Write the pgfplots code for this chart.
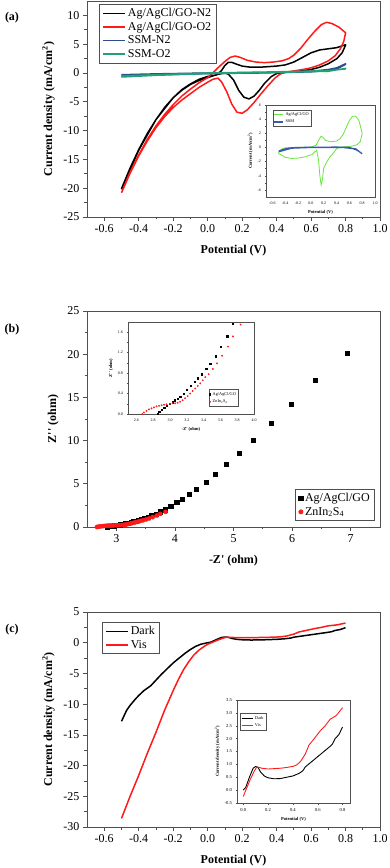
\documentclass[border=0pt]{standalone}
\usepackage{fontspec}
\setmainfont{Liberation Serif}
\usepackage{pgfplots}
\usepackage{pgfplotstable}
\pgfplotsset{compat=1.18}

\definecolor{ssmblue}{HTML}{2E4C8E}
\definecolor{ssmgreen}{HTML}{22A077}
\definecolor{cvred}{HTML}{FF1A1A}
\definecolor{limeg}{HTML}{66E83A}
\definecolor{insblue}{HTML}{3B5BA8}
\definecolor{frm}{HTML}{505050}

% EIS data (b)
\pgfplotstableread{
x y
2.85 0.00
2.87 0.05
2.90 0.09
2.93 0.13
2.96 0.16
3.00 0.20
3.03 0.23
3.06 0.27
3.09 0.30
3.12 0.34
3.16 0.40
3.20 0.47
3.25 0.55
3.29 0.63
3.33 0.70
3.38 0.78
3.43 0.88
3.48 0.99
3.54 1.13
3.60 1.32
3.68 1.52
3.75 1.76
3.84 2.00
3.93 2.37
4.03 2.83
4.12 3.22
4.24 3.78
4.37 4.40
4.53 5.17
4.69 6.10
4.88 7.25
5.10 8.54
5.34 10.08
5.64 12.00
5.98 14.25
6.39 16.95
6.94 20.10
}\agdata
\pgfplotstableread{
x y
2.67 0.00
2.69 0.03
2.72 0.06
2.75 0.09
2.78 0.11
2.81 0.13
2.84 0.15
2.87 0.16
2.90 0.17
2.93 0.18
2.96 0.19
3.00 0.20
3.03 0.21
3.06 0.21
3.09 0.22
3.12 0.24
3.15 0.27
3.18 0.31
3.21 0.35
3.24 0.40
3.27 0.45
3.30 0.50
3.33 0.55
3.36 0.60
3.39 0.66
3.42 0.72
3.46 0.78
3.51 0.88
3.56 0.99
3.62 1.14
3.69 1.32
3.75 1.52
3.84 1.75
}\zisdata

% LSV data (c)
\pgfplotstableread{
x y
-0.50 -12.8
-0.49 -12.2
-0.47 -11.0
-0.45 -10.2
-0.42 -9.2
-0.40 -8.6
-0.37 -7.8
-0.33 -7.0
-0.30 -6.1
-0.27 -5.2
-0.23 -4.1
-0.20 -3.3
-0.17 -2.6
-0.13 -1.7
-0.10 -1.1
-0.07 -0.6
-0.04 -0.25
0.00 0.00
0.02 0.10
0.05 0.50
0.08 0.85
0.10 0.92
0.12 0.88
0.14 0.70
0.17 0.55
0.20 0.48
0.25 0.44
0.30 0.45
0.35 0.50
0.40 0.55
0.45 0.65
0.48 0.75
0.50 0.90
0.55 1.10
0.60 1.30
0.65 1.50
0.70 1.70
0.72 1.80
0.74 2.00
0.77 2.15
0.80 2.45
}\darkdata
\pgfplotstableread{
x y
-0.50 -28.6
-0.45 -25.0
-0.40 -21.6
-0.35 -18.0
-0.30 -14.6
-0.25 -11.0
-0.20 -7.8
-0.17 -6.0
-0.14 -4.4
-0.11 -3.1
-0.08 -2.0
-0.05 -1.2
-0.02 -0.6
0.00 -0.25
0.03 0.10
0.06 0.45
0.09 0.75
0.11 0.90
0.13 0.88
0.15 0.85
0.20 0.82
0.30 0.85
0.35 0.88
0.40 0.92
0.43 0.98
0.46 1.10
0.50 1.40
0.53 1.75
0.58 2.05
0.62 2.30
0.66 2.50
0.70 2.75
0.75 2.90
0.80 3.20
}\visdata

\pgfplotsset{
  base/.style={scale only axis, anchor=south west,
    axis line style={frm, line width=0.8pt},
    tick style={frm, line width=0.7pt},
    tick align=outside, tick pos=left,
    /pgf/number format/assume math mode=true,
    legend cell align=left},
  mainax/.style={base, width=293pt, height=216pt,
    major tick length=4pt, minor tick length=2.5pt, minor tick num=1,
    tick label style={font=\fontsize{12}{12}\selectfont},
    label style={font=\fontsize{12}{14}\selectfont\bfseries},
    xlabel style={yshift=-6pt}, ylabel style={yshift=2pt},
    legend style={font=\fontsize{12}{14}\selectfont, draw=frm, line width=0.7pt, fill=white}},
  inax/.style={base, axis background/.style={fill=white},
    axis line style={frm, line width=0.5pt},
    tick style={frm, line width=0.4pt},
    major tick length=1.5pt, minor tick length=1pt, minor tick num=1,
    tick label style={font=\fontsize{4}{4}\selectfont},
    label style={font=\fontsize{4.5}{5}\selectfont\bfseries},
    xlabel style={yshift=1pt}, ylabel style={yshift=-2pt},
    legend style={font=\fontsize{4.3}{5}\selectfont, draw=frm, line width=0.4pt, fill=white, inner sep=0.5pt, row sep=-1pt}},
  zf/.style={/pgf/number format/fixed, /pgf/number format/fixed zerofill, /pgf/number format/precision=1},
}

\begin{document}
\begin{tikzpicture}
\useasboundingbox (0pt,0pt) rectangle (389pt,868pt);

% ---------------- (a) ----------------
\begin{axis}[mainax, at={(87pt,651pt)},
  xmin=-0.7, xmax=1.0, ymin=-25, ymax=12.5,
  xtick={-0.6,-0.4,-0.2,0,0.2,0.4,0.6,0.8,1.0},
  ytick={-25,-20,-15,-10,-5,0,5,10},
  xticklabel style={zf},
  xlabel={Potential (V)},
  ylabel={Current density (mA/cm\textsuperscript{2})},
  legend style={at={(0.041,0.986)}, anchor=north west},
  legend image code/.code={\draw[#1] (0pt,0pt) -- (22pt,0pt);},
  every axis plot/.append style={line width=1.5pt, line join=round},
]
\addplot[black] coordinates {
(-0.5,-20.1) (-0.45,-16.5) (-0.4,-13.3) (-0.35,-10.5) (-0.3,-8.1) (-0.25,-6.0)
(-0.2,-4.3) (-0.15,-2.9) (-0.1,-1.9) (-0.05,-1.1) (0,-0.6) (0.05,-0.35)
(0.08,0.4) (0.1,1.3) (0.12,1.85) (0.14,1.85) (0.17,1.5) (0.2,1.2) (0.25,1.0)
(0.3,1.0) (0.35,1.1) (0.4,1.2) (0.45,1.4) (0.5,1.9) (0.55,2.7) (0.6,3.5)
(0.65,4.0) (0.7,4.2) (0.75,4.4) (0.8,4.9)
(0.8,4.8) (0.78,3.5) (0.75,2.5) (0.7,1.6) (0.65,1.0) (0.6,0.6) (0.55,0.4)
(0.5,0.25) (0.45,0.1) (0.4,-0.1) (0.37,-0.6) (0.33,-1.8) (0.3,-3.0)
(0.27,-4.0) (0.24,-4.5) (0.21,-4.2) (0.18,-3.0) (0.15,-1.2) (0.12,-0.2)
(0.1,0.0) (0.05,-0.3) (0,-0.8) (-0.05,-1.3) (-0.1,-2.0) (-0.15,-3.0)
(-0.2,-4.3) (-0.3,-8.1) (-0.4,-13.4) (-0.5,-20.2)
};
\addlegendentry{Ag/AgCl/GO-N2}
\addplot[cvred] coordinates {
(-0.5,-20.8) (-0.45,-17.2) (-0.4,-14.2) (-0.35,-11.5) (-0.3,-9.2) (-0.25,-7.2)
(-0.2,-5.5) (-0.15,-4.0) (-0.1,-2.8) (-0.05,-1.7) (0.0,-0.8) (0.03,0.0)
(0.06,0.9) (0.1,2.0) (0.13,2.7) (0.16,2.95) (0.19,2.7) (0.23,2.2) (0.28,1.9)
(0.33,1.8) (0.38,1.9) (0.43,2.1) (0.47,2.5) (0.5,3.1) (0.54,4.3) (0.58,5.8)
(0.62,7.2) (0.66,8.4) (0.69,8.8) (0.72,8.6) (0.76,8.0) (0.8,7.0)
(0.8,6.9) (0.79,5.5) (0.77,4.2) (0.74,3.0) (0.7,2.1) (0.65,1.4) (0.6,0.9)
(0.55,0.6) (0.5,0.35) (0.45,0.15) (0.42,-0.2) (0.39,-0.9) (0.35,-2.2)
(0.31,-3.6) (0.27,-5.1) (0.23,-6.4) (0.2,-7.0) (0.17,-6.8) (0.14,-5.4)
(0.11,-3.2) (0.08,-1.5) (0.06,-0.9) (0.03,-1.1) (0.0,-1.6) (-0.05,-2.5)
(-0.1,-3.6) (-0.15,-4.7) (-0.2,-6.0) (-0.25,-7.6) (-0.3,-9.5) (-0.35,-11.8)
(-0.4,-14.4) (-0.45,-17.4) (-0.5,-20.8)
};
\addlegendentry{Ag/AgCl/GO-O2}
\addplot[ssmblue] coordinates {
(-0.5,-0.3) (-0.3,-0.15) (0,0) (0.4,0.1) (0.6,0.3) (0.7,0.6) (0.75,0.9) (0.8,1.6)
(0.8,1.5) (0.75,0.7) (0.6,0.2) (0.3,0.0) (0,-0.1) (-0.3,-0.3) (-0.5,-0.5)
};
\addlegendentry{SSM-N2}
\addplot[ssmgreen] coordinates {
(-0.5,-0.7) (-0.3,-0.4) (0,-0.1) (0.4,0.1) (0.7,0.3) (0.8,0.8)
(0.8,0.7) (0.7,0.4) (0.4,0.2) (0,0.0) (-0.3,-0.3) (-0.5,-0.5)
};
\addlegendentry{SSM-O2}
\end{axis}

\begin{axis}[inax, at={(266pt,671pt)}, width=109pt, height=92pt,
  xmin=-0.7, xmax=1.0, ymin=-7, ymax=6,
  xtick={-0.6,-0.4,-0.2,0,0.2,0.4,0.6,0.8,1.0},
  ytick={-6,-4,-2,0,2,4,6},
  xticklabel style={zf},
  xlabel={Potential (V)},
  ylabel={Current (mA/cm\textsuperscript{2})},
  legend style={at={(0.06,0.95)}, anchor=north west},
  legend image code/.code={\draw[#1] (0pt,0pt) -- (9pt,0pt);},
]
\addplot[limeg, line width=0.8pt] coordinates {
(-0.5,-0.6) (-0.45,-0.2) (-0.4,-0.05) (-0.3,0.0) (-0.2,0.0) (0,0.05) (0.08,0.3)
(0.12,1.0) (0.16,1.6) (0.19,1.4) (0.23,1.0) (0.3,0.8) (0.4,0.9) (0.45,1.2)
(0.5,1.8) (0.55,2.8) (0.6,3.8) (0.65,4.4) (0.7,4.4) (0.75,3.8) (0.8,2.0)
(0.77,0.8) (0.72,0.4) (0.65,0.2) (0.55,0.1) (0.45,0.05) (0.4,-0.2) (0.35,-0.8)
(0.3,-1.3) (0.25,-2.0) (0.2,-2.9) (0.18,-4.5) (0.16,-5.3) (0.14,-4.0) (0.12,-1.8)
(0.09,-0.4) (0.06,-0.6) (0.02,-1.0) (-0.1,-1.35) (-0.2,-1.5) (-0.3,-1.55)
(-0.4,-1.4) (-0.45,-1.1) (-0.5,-0.9) (-0.5,-0.6)
};
\addlegendentry{Ag/AgCl/GO}
\addplot[insblue, line width=1.3pt] coordinates {
(-0.5,-0.5) (-0.4,-0.2) (-0.3,-0.05) (-0.2,0.0) (0.4,0.05) (0.6,0.0) (0.7,-0.3)
(0.75,-0.55) (0.8,-0.9) (0.7,-0.2) (0.5,0.0) (0,0.0) (-0.3,-0.1) (-0.5,-0.6)
};
\addlegendentry{SSM}
\end{axis}
\node[font=\fontsize{12}{14}\selectfont\bfseries] at (12pt,850pt) {(a)};

% ---------------- (b) ----------------
\begin{axis}[mainax, at={(87pt,341pt)},
  xmin=2.5, xmax=7.5, ymin=0, ymax=25,
  xtick={3,4,5,6,7}, ytick={0,5,10,15,20,25},
  xlabel={-Z\textquotesingle{} (ohm)},
  ylabel={Z\textquotesingle\textquotesingle{} (ohm)},
  legend style={at={(0.983,0.028)}, anchor=south east},
]
\addplot[only marks, mark=square*, mark size=2.1pt, black] table[x=x,y=y] {\agdata};
\addlegendentry{Ag/AgCl/GO}
\addplot[only marks, mark=*, mark size=2.1pt, cvred, mark options={draw=cvred, fill=cvred}] table[x=x,y=y] {\zisdata};
\addlegendentry{ZnIn\textsubscript{2}S\textsubscript{4}}
\end{axis}

\begin{axis}[inax, at={(128pt,454pt)}, width=126pt, height=92pt,
  xmin=2.5, xmax=4.0, ymin=0, ymax=1.8,
  xtick={2.6,2.8,3.0,3.2,3.4,3.6,3.8,4.0},
  ytick={0,0.4,0.8,1.2,1.6},
  xticklabel style={zf}, yticklabel style={zf},
  xlabel={-Z\textquotesingle{} (ohm)},
  ylabel={Z\textquotesingle\textquotesingle{} (ohm)},
  legend style={at={(0.64,0.08)}, anchor=south west},
]
\addplot[only marks, mark=square*, mark size=0.65pt, black] table[x=x,y=y] {\agdata};
\addlegendentry{Ag/AgCl/GO}
\addplot[only marks, mark=*, mark size=0.7pt, cvred, mark options={draw=cvred, fill=cvred}] table[x=x,y=y] {\zisdata};
\addlegendentry{ZnIn\textsubscript{2}S\textsubscript{4}}
\end{axis}
\node[font=\fontsize{12}{14}\selectfont\bfseries] at (12pt,538pt) {(b)};

% ---------------- (c) ----------------
\begin{axis}[mainax, at={(87pt,41pt)}, height=215pt,
  xmin=-0.7, xmax=1.0, ymin=-30, ymax=5,
  xtick={-0.6,-0.4,-0.2,0,0.2,0.4,0.6,0.8,1.0},
  ytick={-30,-25,-20,-15,-10,-5,0,5},
  xticklabel style={zf},
  xlabel={Potential (V)},
  ylabel={Current density (mA/cm\textsuperscript{2})},
  legend style={at={(0.051,0.953)}, anchor=north west},
  legend image code/.code={\draw[#1] (0pt,0pt) -- (22pt,0pt);},
  every axis plot/.append style={line width=1.5pt, line join=round},
]
\addplot[black] table[x=x,y=y] {\darkdata};
\addlegendentry{Dark}
\addplot[cvred] table[x=x,y=y] {\visdata};
\addlegendentry{Vis}
\end{axis}

\begin{axis}[inax, at={(237pt,65pt)}, width=113pt, height=103pt,
  xmin=-0.05, xmax=0.86, ymin=-0.5, ymax=3.5,
  xtick={0,0.2,0.4,0.6,0.8},
  ytick={-0.5,0,0.5,1.0,1.5,2.0,2.5,3.0,3.5},
  minor tick num=0,
  xticklabel style={zf}, yticklabel style={zf},
  tick label style={font=\fontsize{4.6}{5}\selectfont},
  xlabel={Potential (V)},
  ylabel={Current density (mA/cm\textsuperscript{2})},
  legend style={at={(0.03,0.87)}, anchor=north west},
  legend image code/.code={\draw[#1] (0pt,0pt) -- (11pt,0pt);},
  every axis plot/.append style={line width=0.9pt},
]
\addplot[black, restrict x to domain=-0.001:1] table[x=x,y=y] {\darkdata};
\addlegendentry{Dark}
\addplot[cvred, restrict x to domain=-0.001:1] table[x=x,y=y] {\visdata};
\addlegendentry{Vis}
\end{axis}
\node[font=\fontsize{12}{14}\selectfont\bfseries] at (12pt,238pt) {(c)};

\end{tikzpicture}
\end{document}
